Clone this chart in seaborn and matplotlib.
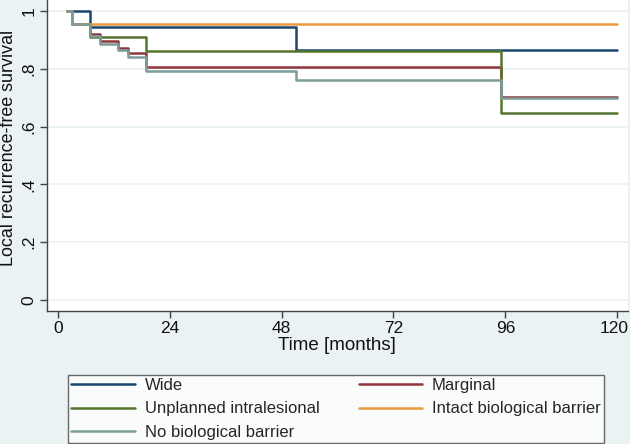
import pandas as pd
import seaborn as sns
import matplotlib.pyplot as plt
from matplotlib.lines import Line2D
from matplotlib.transforms import ScaledTranslation

# Kaplan-Meier step curves
groups = ["Wide", "Marginal", "Unplanned intralesional",
          "Intact biological barrier", "No biological barrier"]

wide_t = [2, 7, 51, 120]
wide_s = [1, 0.945, 0.866, 0.866]

marg_t = [2, 3, 7, 9, 13, 15, 19, 95, 120]
marg_s = [1, 0.955, 0.920, 0.896, 0.872, 0.855, 0.806, 0.702, 0.702]

unpl_t = [2, 3, 7, 19, 95, 120]
unpl_s = [1, 0.955, 0.910, 0.863, 0.648, 0.648]

intact_t = [2, 3, 120]
intact_s = [1, 0.955, 0.955]

nobio_t = [2, 3, 7, 9, 13, 15, 19, 51, 95, 120]
nobio_s = [1, 0.955, 0.913, 0.886, 0.865, 0.841, 0.792, 0.761, 0.699, 0.699]

xticks = [0, 24, 48, 72, 96, 120]
yticks = [0, 0.2, 0.4, 0.6, 0.8, 1]
ytick_labels = ["0", ".2", ".4", ".6", ".8", "1"]

colors = ["#1a476f", "#90353b", "#55752f", "#ec9a3c", "#7d9b98"]

rows = []
for g, t, s in zip(groups, [wide_t, marg_t, unpl_t, intact_t, nobio_t],
                   [wide_s, marg_s, unpl_s, intact_s, nobio_s]):
    for ti, si in zip(t, s):
        rows.append((g, ti, si))
df = pd.DataFrame(rows, columns=["group", "time", "surv"])

sns.set_style("ticks")
plt.rcParams['font.family'] = ['Liberation Sans', 'DejaVu Sans']

bg = "#eaf2f3"
fig = plt.figure(figsize=(6.3, 4.44), dpi=100, facecolor=bg)
ax = fig.add_axes([46.5 / 630, 1 - 311 / 444, (628 - 46.5) / 630, 311 / 444])
ax.set_facecolor("white")

for yv in yticks:
    ax.axhline(yv, color=bg, lw=1.2, zorder=0)

sns.lineplot(data=df, x="time", y="surv", hue="group", hue_order=groups,
             palette=colors, drawstyle="steps-post", estimator=None,
             sort=False, linewidth=1.8, legend=False, ax=ax)

ax.set_xlim(-2.4, 122.3)
ax.set_ylim(-0.038, 1.038)
ax.set_xticks(xticks)
ax.set_yticks(yticks)
ax.set_yticklabels(ytick_labels, rotation=90, va="center")
ax.tick_params(axis="both", direction="out", length=5, width=1, color="#444444",
               labelsize=12.5, labelcolor="#111111", pad=2)
# nudge the last x label so it stays inside the picture
last = ax.get_xticklabels()[-1]
last.set_transform(last.get_transform() + ScaledTranslation(-0.03, 0, fig.dpi_scale_trans))
for side in ["top", "right"]:
    ax.spines[side].set_visible(False)
for side in ["left", "bottom"]:
    ax.spines[side].set_color("#444444")
    ax.spines[side].set_linewidth(1)

ax.set_xlabel("Time [months]", fontsize=13.5, labelpad=1, color="#111111")
ax.set_ylabel("Local recurrence-free survival", fontsize=12.9, color="#111111")
ax.yaxis.set_label_coords(-0.05, 0.525)

handles = [Line2D([], [], color=c, lw=1.8) for c in colors]
order = [0, 2, 4, 1, 3]
leg = fig.legend([handles[i] for i in order], [groups[i] for i in order],
                 ncol=2, loc="lower left", mode="expand",
                 bbox_to_anchor=(68 / 630, 1 - 443 / 444, (604 - 68) / 630, 69 / 444),
                 fontsize=12, frameon=True, fancybox=False, handlelength=3.8,
                 handletextpad=0.6, labelspacing=0.5, borderpad=0.2,
                 borderaxespad=0)
leg.get_frame().set_edgecolor("#444444")
leg.get_frame().set_linewidth(1)

fig.savefig("out.png", dpi=100, facecolor=bg)
